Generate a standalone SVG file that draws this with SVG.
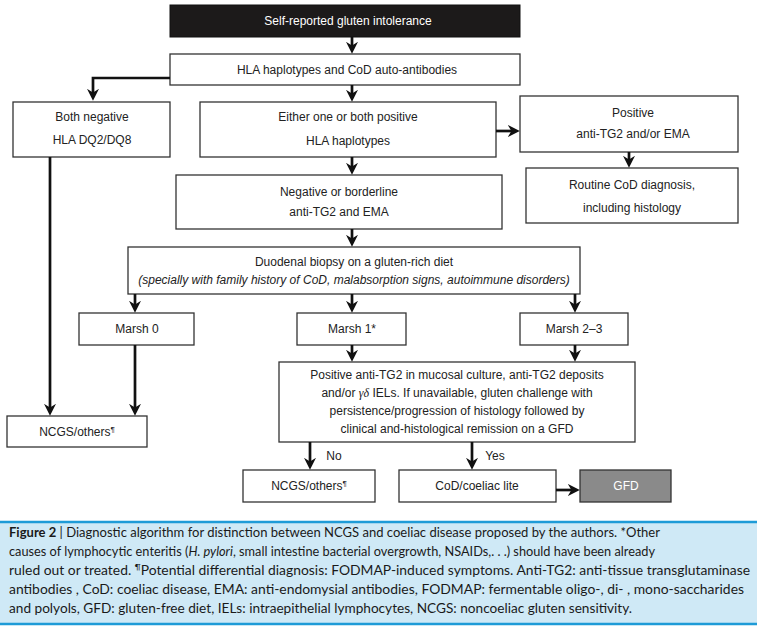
<svg xmlns="http://www.w3.org/2000/svg" width="757" height="627" viewBox="0 0 757 627">
<style>
.box{fill:#fff;stroke:#333;stroke-width:1.3}
.t{font-family:"Liberation Sans",Arial,sans-serif;font-size:12px;fill:#222;text-anchor:middle}
.w{fill:#fff}
.c{fill:none;stroke:#111;stroke-width:2.7}
.cap{font-family:"Lato","Open Sans",sans-serif;font-size:13px;fill:#1a1a1a}
.sup{font-size:8px}
</style>
<defs>
<marker id="ah" viewBox="0 0 10 10" markerWidth="12" markerHeight="12" refX="6" refY="5" orient="auto" markerUnits="userSpaceOnUse">
<path d="M0,0 L10,5 L0,10 L3,5 Z" fill="#111"/>
</marker>
</defs>
<rect width="757" height="627" fill="#fff"/>

<g id="n-self"><rect x="170" y="5" width="350" height="32" fill="#1c1a1a" stroke="#111"/><text class="t w" x="348" y="25">Self-reported gluten intolerance</text></g>
<g id="n-hla"><rect class="box" x="170" y="54" width="350" height="31"/><text class="t" x="347" y="74">HLA haplotypes and CoD auto-antibodies</text></g>
<g id="n-bothneg"><rect class="box" x="13" y="102" width="157" height="55"/><text class="t" x="92" y="121">Both negative</text><text class="t" x="92" y="144">HLA DQ2/DQ8</text></g>
<g id="n-either"><rect class="box" x="200" y="102" width="296" height="55"/><text class="t" x="348" y="121">Either one or both positive</text><text class="t" x="348" y="145">HLA haplotypes</text></g>
<g id="n-pos"><rect class="box" x="520" y="96" width="218" height="56"/><text class="t" x="633" y="117">Positive</text><text class="t" x="633" y="138">anti-TG2 and/or EMA</text></g>
<g id="n-routine"><rect class="box" x="526" y="168" width="212" height="55"/><text class="t" x="632" y="189">Routine CoD diagnosis,</text><text class="t" x="632" y="212">including histology</text></g>
<g id="n-negb"><rect class="box" x="176" y="175" width="326" height="54"/><text class="t" x="339" y="196">Negative or borderline</text><text class="t" x="339" y="216">anti-TG2 and EMA</text></g>
<g id="n-duo"><rect class="box" x="128" y="247" width="452" height="47"/><text class="t" x="354" y="266">Duodenal biopsy on a gluten-rich diet</text><text class="t" x="354" y="284" font-style="italic">(specially with family history of CoD, malabsorption signs, autoimmune disorders)</text></g>
<g id="n-m0"><rect class="box" x="79" y="313" width="115" height="32"/><text class="t" x="137" y="333">Marsh 0</text></g>
<g id="n-m1"><rect class="box" x="297" y="313" width="109" height="32"/><text class="t" x="352" y="333">Marsh 1*</text></g>
<g id="n-m23"><rect class="box" x="520" y="313" width="108" height="32"/><text class="t" x="574" y="333">Marsh 2–3</text></g>
<g id="n-test"><rect class="box" x="279" y="362" width="356" height="80"/>
<text class="t" x="457" y="379">Positive anti-TG2 in mucosal culture, anti-TG2 deposits</text>
<text class="t" x="457" y="397">and/or <tspan font-family="Liberation Serif,serif" font-style="italic">γδ</tspan> IELs. If unavailable, gluten challenge with</text>
<text class="t" x="457" y="415">persistence/progression of histology followed by</text>
<text class="t" x="457" y="433">clinical and-histological remission on a GFD</text></g>
<g id="n-ncgs1"><rect class="box" x="7" y="416" width="140" height="31"/><text class="t" x="77" y="436">NCGS/others<tspan class="sup" dy="-4">¶</tspan></text></g>
<g id="n-ncgs2"><rect class="box" x="243" y="470" width="132" height="32"/><text class="t" x="309" y="490">NCGS/others<tspan class="sup" dy="-4">¶</tspan></text></g>
<g id="n-cod"><rect class="box" x="399" y="470" width="157" height="32"/><text class="t" x="477" y="490">CoD/coeliac lite</text></g>
<g id="n-gfd"><rect x="580" y="470" width="91" height="32" fill="#8a8a8a" stroke="#333" stroke-width="1.3"/><text class="t w" x="626" y="490">GFD</text></g>

<g id="connectors">
<path class="c" d="M352,37 V49" marker-end="url(#ah)"/>
<path class="c" d="M170,78 H93 V96" marker-end="url(#ah)"/>
<path class="c" d="M352,85 V97" marker-end="url(#ah)"/>
<path class="c" d="M496,131 H515" marker-end="url(#ah)"/>
<path class="c" d="M629,152 V163" marker-end="url(#ah)"/>
<path class="c" d="M352,157 V170" marker-end="url(#ah)"/>
<path class="c" d="M352,229 V242" marker-end="url(#ah)"/>
<path class="c" d="M135,294 V308" marker-end="url(#ah)"/>
<path class="c" d="M352,294 V308" marker-end="url(#ah)"/>
<path class="c" d="M575,294 V308" marker-end="url(#ah)"/>
<path class="c" d="M50,157 V411" marker-end="url(#ah)"/>
<path class="c" d="M135,345 V411" marker-end="url(#ah)"/>
<path class="c" d="M352,345 V357" marker-end="url(#ah)"/>
<path class="c" d="M575,345 V357" marker-end="url(#ah)"/>
<path class="c" d="M310,442 V465" marker-end="url(#ah)"/>
<path class="c" d="M472,442 V465" marker-end="url(#ah)"/>
<path class="c" d="M556,490 H575" marker-end="url(#ah)"/>
<text class="t" x="334" y="460">No</text>
<text class="t" x="495" y="460">Yes</text>
</g>

<g id="caption">
<rect x="0" y="522" width="757" height="102" fill="#cfe9f6"/>
<line x1="0" y1="522" x2="757" y2="522" stroke="#1e9bd7" stroke-width="2.5"/>
<line x1="0" y1="624" x2="757" y2="624" stroke="#1e9bd7" stroke-width="2.5"/>
<text class="cap" x="9" y="537" textLength="651" lengthAdjust="spacingAndGlyphs"><tspan font-weight="bold">Figure 2</tspan> | Diagnostic algorithm for distinction between NCGS and coeliac disease proposed by the authors. *Other</text>
<text class="cap" x="9" y="556" textLength="646" lengthAdjust="spacingAndGlyphs">causes of lymphocytic enteritis (<tspan font-style="italic">H. pylori</tspan>, small intestine bacterial overgrowth, NSAIDs,. . .) should have been already</text>
<text class="cap" x="9" y="575" textLength="741" lengthAdjust="spacingAndGlyphs">ruled out or treated. <tspan class="sup" dy="-5">¶</tspan><tspan dy="5">Potential differential diagnosis: FODMAP-induced symptoms. Anti-TG2: anti-tissue transglutaminase</tspan></text>
<text class="cap" x="9" y="594" textLength="735" lengthAdjust="spacingAndGlyphs">antibodies , CoD: coeliac disease, EMA: anti-endomysial antibodies, FODMAP: fermentable oligo-, di- , mono-saccharides</text>
<text class="cap" x="9" y="613" textLength="623" lengthAdjust="spacingAndGlyphs">and polyols,  GFD: gluten-free diet, IELs: intraepithelial lymphocytes, NCGS: noncoeliac gluten sensitivity.</text>
</g>
</svg>
